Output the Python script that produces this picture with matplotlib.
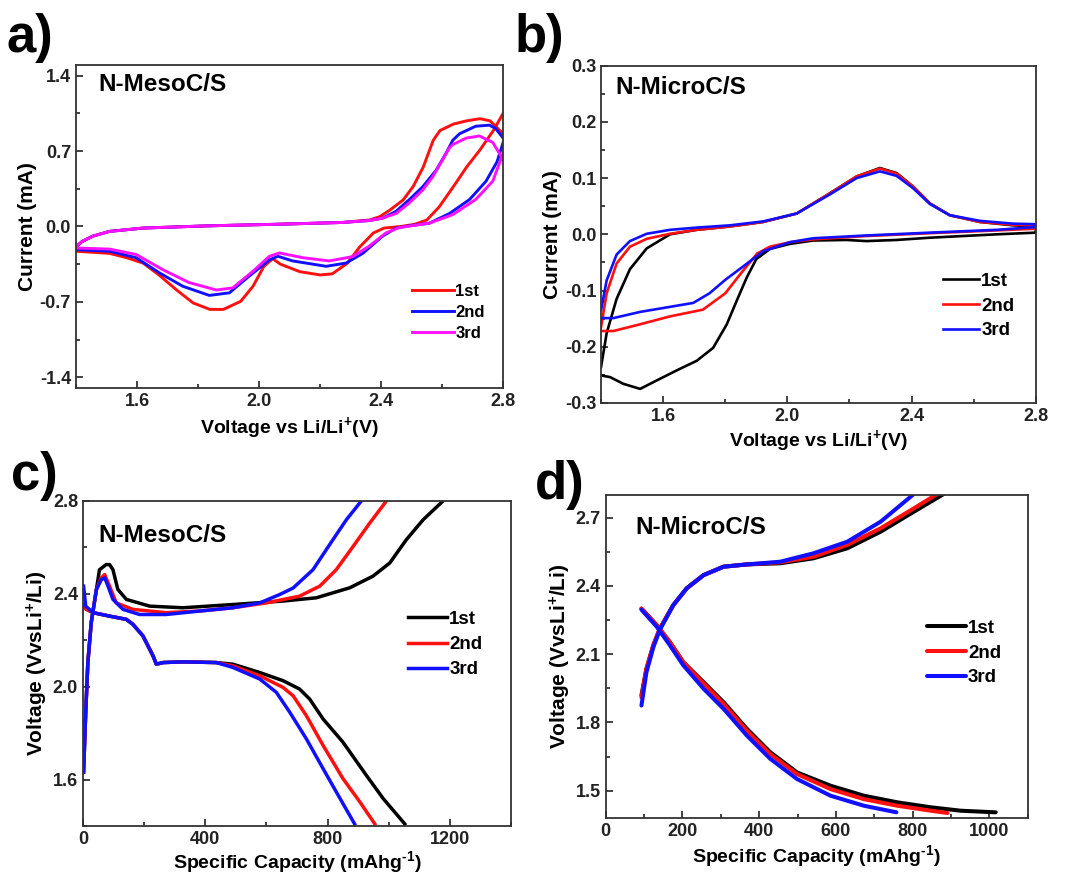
import numpy as np
import matplotlib
matplotlib.use("Agg")
import matplotlib.pyplot as plt
from matplotlib.ticker import MultipleLocator, FormatStrFormatter

plt.rcParams['font.family'] = ['Liberation Sans', 'DejaVu Sans']
plt.rcParams['font.weight'] = 'bold'
plt.rcParams['mathtext.fontset'] = 'custom'
plt.rcParams['mathtext.rm'] = 'Liberation Sans:bold'
plt.rcParams['mathtext.bf'] = 'Liberation Sans:bold'
plt.rcParams['mathtext.default'] = 'rm'
plt.rcParams['axes.unicode_minus'] = False

cycles = ['1st', '2nd', '3rd']

# --- a) CV of N-MesoC/S (upper loop 2.8 -> 1.4, then lower branch 1.4 -> 2.8)
meso_cv_v_1st = [2.80, 2.757, 2.724, 2.68, 2.637, 2.593, 2.571, 2.538, 2.505, 2.472, 2.428, 2.395,
                 2.362, 2.274, 2.056, 1.837, 1.62, 1.51, 1.455, 1.42, 1.40,
                 1.40, 1.51, 1.566, 1.62, 1.672, 1.73, 1.784, 1.839, 1.883, 1.94, 1.98, 2.016, 2.045,
                 2.07, 2.134, 2.20, 2.24, 2.29, 2.33, 2.375, 2.41, 2.466, 2.51, 2.55, 2.59, 2.637,
                 2.68, 2.724, 2.768, 2.80]
meso_cv_i_1st = [0.86, 0.98, 1.00, 0.98, 0.95, 0.89, 0.80, 0.55, 0.37, 0.245, 0.15, 0.09,
                 0.06, 0.037, 0.02, 0.006, -0.015, -0.046, -0.09, -0.14, -0.19,
                 -0.23, -0.25, -0.29, -0.34, -0.45, -0.59, -0.71, -0.77, -0.77, -0.695, -0.556, -0.37, -0.30,
                 -0.35, -0.42, -0.45, -0.44, -0.34, -0.19, -0.06, -0.015, 0.0, 0.02, 0.06, 0.18, 0.37,
                 0.55, 0.71, 0.89, 1.05]
meso_cv_v_2nd = [2.80, 2.775, 2.755, 2.71, 2.657, 2.635, 2.613, 2.58, 2.537, 2.493, 2.449, 2.405,
                 2.362, 2.274, 2.056, 1.837, 1.62, 1.51, 1.455, 1.42, 1.40,
                 1.40, 1.51, 1.597, 1.673, 1.75, 1.837, 1.903, 1.968, 2.034, 2.062, 2.11, 2.22, 2.285,
                 2.34, 2.405, 2.449, 2.493, 2.558, 2.624, 2.69, 2.744, 2.78, 2.80]
meso_cv_i_2nd = [0.82, 0.91, 0.94, 0.93, 0.86, 0.80, 0.68, 0.52, 0.37, 0.25, 0.14, 0.077,
                 0.055, 0.037, 0.02, 0.006, -0.015, -0.046, -0.09, -0.14, -0.19,
                 -0.215, -0.23, -0.29, -0.43, -0.555, -0.64, -0.616, -0.46, -0.31, -0.277, -0.32, -0.37, -0.34,
                 -0.25, -0.09, -0.015, 0.006, 0.03, 0.12, 0.25, 0.42, 0.60, 0.78]
meso_cv_v_3rd = [2.80, 2.766, 2.722, 2.679, 2.635, 2.624, 2.602, 2.569, 2.537, 2.493, 2.449, 2.405,
                 2.362, 2.274, 2.056, 1.837, 1.62, 1.51, 1.455, 1.42, 1.40,
                 1.40, 1.51, 1.597, 1.684, 1.77, 1.86, 1.914, 1.98, 2.034, 2.067, 2.143, 2.23, 2.307,
                 2.36, 2.416, 2.46, 2.558, 2.635, 2.71, 2.766, 2.80]
meso_cv_i_3rd = [0.62, 0.78, 0.84, 0.82, 0.76, 0.73, 0.62, 0.46, 0.34, 0.22, 0.12, 0.077,
                 0.055, 0.037, 0.02, 0.006, -0.015, -0.046, -0.09, -0.14, -0.185,
                 -0.20, -0.21, -0.26, -0.40, -0.52, -0.59, -0.57, -0.416, -0.277, -0.246, -0.29, -0.32, -0.28,
                 -0.185, -0.06, -0.01, 0.03, 0.11, 0.25, 0.42, 0.68]

# --- b) CV of N-MicroC/S (upper branch 1.4 -> 2.8, then lower branch 2.8 -> 1.4)
micro_cv_v_1st = [1.40, 1.418, 1.45, 1.493, 1.547, 1.622, 1.708, 1.815, 1.922, 2.03, 2.137, 2.223,
                  2.298, 2.352, 2.405, 2.459, 2.523, 2.62, 2.727, 2.80,
                  2.80, 2.674, 2.459, 2.352, 2.255, 2.19, 2.083, 2.008, 1.944, 1.90, 1.869, 1.837,
                  1.805, 1.761, 1.708, 1.644, 1.579, 1.526, 1.472, 1.429, 1.40]
micro_cv_i_1st = [-0.236, -0.176, -0.115, -0.062, -0.025, 0.0, 0.008, 0.014, 0.022, 0.037, 0.073, 0.103,
                  0.118, 0.109, 0.085, 0.055, 0.034, 0.022, 0.016, 0.014,
                  0.003, 0.0, -0.006, -0.010, -0.012, -0.010, -0.011, -0.017, -0.026, -0.044, -0.077, -0.118,
                  -0.16, -0.202, -0.225, -0.242, -0.26, -0.275, -0.266, -0.254, -0.251]
micro_cv_v_2nd = [1.40, 1.418, 1.45, 1.493, 1.547, 1.622, 1.708, 1.815, 1.922, 2.03, 2.137, 2.223,
                  2.298, 2.352, 2.405, 2.459, 2.523, 2.62, 2.727, 2.80,
                  2.80, 2.674, 2.459, 2.255, 2.083, 2.008, 1.944, 1.903, 1.851, 1.80, 1.728, 1.622,
                  1.526, 1.44, 1.40]
micro_cv_i_2nd = [-0.165, -0.105, -0.052, -0.022, -0.008, 0.001, 0.008, 0.014, 0.022, 0.037, 0.073, 0.103,
                  0.117, 0.108, 0.085, 0.055, 0.034, 0.022, 0.017, 0.016,
                  0.010, 0.007, 0.002, -0.003, -0.009, -0.014, -0.022, -0.034, -0.069, -0.105, -0.134, -0.146,
                  -0.16, -0.172, -0.172]
micro_cv_v_3rd = [1.40, 1.418, 1.45, 1.493, 1.547, 1.622, 1.708, 1.815, 1.922, 2.03, 2.137, 2.223,
                  2.298, 2.352, 2.405, 2.459, 2.523, 2.62, 2.727, 2.80,
                  2.80, 2.674, 2.459, 2.255, 2.083, 2.008, 1.922, 1.858, 1.80, 1.749, 1.697, 1.633,
                  1.526, 1.44, 1.40]
micro_cv_i_3rd = [-0.135, -0.082, -0.036, -0.012, 0.001, 0.008, 0.012, 0.016, 0.023, 0.037, 0.071, 0.100,
                  0.112, 0.104, 0.082, 0.054, 0.034, 0.024, 0.019, 0.018,
                  0.013, 0.008, 0.003, -0.002, -0.007, -0.014, -0.030, -0.057, -0.081, -0.105, -0.122, -0.128,
                  -0.138, -0.149, -0.149]

# --- c) charge/discharge of N-MesoC/S
meso_dis_cap_1st = [2, 9, 33, 87, 142, 163, 196, 229, 240, 262, 327, 436, 490, 578, 654, 708, 741, 785,
                    850, 926, 981, 1052]
meso_dis_v_1st = [2.35, 2.335, 2.319, 2.304, 2.29, 2.269, 2.219, 2.133, 2.097, 2.104, 2.107, 2.104, 2.097,
                  2.061, 2.026, 1.99, 1.947, 1.861, 1.761, 1.619, 1.519, 1.409]
meso_dis_cap_2nd = [2, 9, 33, 87, 142, 163, 196, 229, 240, 262, 327, 436, 490, 578, 654, 687, 730, 785,
                    850, 905, 954]
meso_dis_v_2nd = [2.35, 2.335, 2.319, 2.304, 2.29, 2.269, 2.219, 2.133, 2.097, 2.104, 2.107, 2.104, 2.09,
                  2.047, 1.997, 1.961, 1.876, 1.747, 1.604, 1.504, 1.409]
meso_dis_cap_3rd = [2, 9, 33, 87, 142, 163, 196, 229, 240, 262, 327, 436, 490, 578, 632, 676, 730, 785,
                    828, 888]
meso_dis_v_3rd = [2.433, 2.347, 2.319, 2.304, 2.29, 2.269, 2.219, 2.133, 2.097, 2.104, 2.107, 2.104, 2.083,
                  2.033, 1.976, 1.89, 1.776, 1.647, 1.547, 1.409]
meso_chg_cap_1st = [2, 9, 16, 27, 44, 54, 76, 87, 98, 114, 142, 218, 327, 490, 654, 763, 872, 948, 1003,
                    1057, 1112, 1177]
meso_chg_v_1st = [1.633, 1.89, 2.104, 2.276, 2.419, 2.504, 2.526, 2.526, 2.504, 2.419, 2.376, 2.347, 2.34,
                  2.354, 2.369, 2.383, 2.426, 2.476, 2.533, 2.633, 2.719, 2.80]
meso_chg_cap_2nd = [2, 9, 16, 27, 44, 60, 71, 87, 109, 163, 272, 382, 490, 600, 708, 774, 828, 883, 937, 992]
meso_chg_v_2nd = [1.633, 1.89, 2.104, 2.276, 2.419, 2.469, 2.483, 2.433, 2.361, 2.333, 2.319, 2.326, 2.34,
                  2.361, 2.39, 2.433, 2.504, 2.604, 2.704, 2.80]
meso_chg_cap_3rd = [2, 9, 16, 27, 44, 60, 71, 82, 98, 131, 185, 272, 382, 490, 578, 643, 687, 752, 817,
                    861, 910]
meso_chg_v_3rd = [1.633, 1.89, 2.104, 2.276, 2.419, 2.461, 2.469, 2.433, 2.376, 2.333, 2.311, 2.311, 2.326,
                  2.34, 2.361, 2.397, 2.425, 2.504, 2.633, 2.719, 2.80]

# --- d) charge/discharge of N-MicroC/S
micro_dis_cap_1st = [93, 133, 167, 202, 255, 307, 368, 429, 499, 586, 673, 760, 848, 926, 1017]
micro_dis_v_1st = [2.30, 2.227, 2.153, 2.065, 1.977, 1.889, 1.772, 1.669, 1.58, 1.522, 1.478, 1.449, 1.427,
                   1.412, 1.405]
micro_dis_cap_2nd = [93, 133, 167, 202, 255, 307, 368, 429, 499, 586, 673, 760, 848, 891]
micro_dis_v_2nd = [2.30, 2.227, 2.153, 2.065, 1.972, 1.882, 1.764, 1.661, 1.573, 1.507, 1.463, 1.434, 1.412,
                   1.402]
micro_dis_cap_3rd = [93, 133, 167, 202, 255, 307, 368, 429, 499, 586, 673, 758]
micro_dis_v_3rd = [2.295, 2.22, 2.139, 2.051, 1.948, 1.86, 1.742, 1.64, 1.551, 1.478, 1.434, 1.405]
micro_chg_cap_1st = [93, 106, 124, 141, 176, 211, 255, 307, 368, 455, 542, 630, 717, 804, 882]
micro_chg_v_1st = [1.919, 2.036, 2.139, 2.212, 2.315, 2.389, 2.447, 2.484, 2.494, 2.499, 2.521, 2.565, 2.638,
                   2.726, 2.804]
micro_chg_cap_2nd = [93, 106, 124, 141, 176, 211, 255, 307, 368, 455, 542, 630, 717, 804, 865]
micro_chg_v_2nd = [1.91, 2.036, 2.139, 2.212, 2.315, 2.389, 2.447, 2.484, 2.494, 2.503, 2.528, 2.58, 2.653,
                   2.741, 2.804]
micro_chg_cap_3rd = [93, 106, 124, 141, 176, 211, 255, 307, 368, 455, 542, 630, 717, 804]
micro_chg_v_3rd = [1.874, 2.02, 2.13, 2.207, 2.315, 2.389, 2.447, 2.484, 2.494, 2.506, 2.543, 2.594, 2.682,
                   2.804]

xlab_cv = r'Voltage vs Li/Li$^{+}$(V)'
xlab_cap = r'Specific Capacity (mAhg$^{\text{-1}}$)'
ylab_cap = r'Voltage (VvsLi$^{+}$/Li)'


def style_axes(ax):
    for s in ax.spines.values():
        s.set_color('#333333')
        s.set_linewidth(1.3)
    ax.tick_params(which='both', direction='in', top=False, right=False, labelsize=13,
                   width=1.2, colors='#222222')
    ax.tick_params(which='major', length=5)
    ax.tick_params(which='minor', length=3)
    for lab in ax.get_xticklabels() + ax.get_yticklabels():
        lab.set_fontweight('bold')


def add_legend(ax, handles, x, y, fs, spacing, hl):
    ax.legend(handles=handles, labels=cycles, loc='upper left', bbox_to_anchor=(x, y),
              frameon=False, fontsize=fs, handlelength=hl, handletextpad=0.1,
              labelspacing=spacing, borderpad=0, borderaxespad=0)


fig = plt.figure(figsize=(10.76, 8.76), dpi=100)

# a)
ax = fig.add_axes([0.0706, 0.557, 0.397, 0.369])
lines = []
for v, i, c in [(meso_cv_v_1st, meso_cv_i_1st, '#ff1010'),
                (meso_cv_v_2nd, meso_cv_i_2nd, '#1010ff'),
                (meso_cv_v_3rd, meso_cv_i_3rd, '#ff10ff')]:
    lines.append(ax.plot(v, i, color=c, lw=2.1)[0])
ax.set_xlim(1.4, 2.8)
ax.set_ylim(-1.5, 1.5)
ax.set_xticks([1.6, 2.0, 2.4, 2.8])
ax.xaxis.set_minor_locator(MultipleLocator(0.2))
ax.set_yticks([-1.4, -0.7, 0.0, 0.7, 1.4])
ax.yaxis.set_minor_locator(MultipleLocator(0.35))
ax.yaxis.set_major_formatter(FormatStrFormatter('%.1f'))
ax.set_xlabel(xlab_cv, fontsize=14, fontweight='bold', labelpad=4)
ax.set_ylabel('Current (mA)', fontsize=15, fontweight='bold', labelpad=2)
ax.text(0.052, 0.94, 'N-MesoC/S', transform=ax.transAxes, fontsize=17.5, fontweight='bold', va='center')
style_axes(ax)
add_legend(ax, lines, 0.787, 0.322, 12, 0.36, 2.5)

# b)
ax = fig.add_axes([0.5586, 0.540, 0.404, 0.385])
lines = []
for v, i, c in [(micro_cv_v_1st, micro_cv_i_1st, 'black'),
                (micro_cv_v_2nd, micro_cv_i_2nd, '#ff1010'),
                (micro_cv_v_3rd, micro_cv_i_3rd, '#1010ff')]:
    lines.append(ax.plot(v, i, color=c, lw=1.9)[0])
ax.set_xlim(1.4, 2.8)
ax.set_ylim(-0.3, 0.3)
ax.set_xticks([1.6, 2.0, 2.4, 2.8])
ax.xaxis.set_minor_locator(MultipleLocator(0.2))
ax.set_yticks(np.arange(-0.3, 0.31, 0.1))
ax.yaxis.set_minor_locator(MultipleLocator(0.05))
ax.yaxis.set_major_formatter(FormatStrFormatter('%.1f'))
ax.set_xlabel(xlab_cv, fontsize=14, fontweight='bold', labelpad=2)
ax.set_ylabel('Current (mA)', fontsize=15, fontweight='bold', labelpad=2)
ax.text(0.032, 0.935, 'N-MicroC/S', transform=ax.transAxes, fontsize=17.5, fontweight='bold', va='center')
style_axes(ax)
add_legend(ax, lines, 0.786, 0.386, 13.5, 0.4, 1.95)

# c)
ax = fig.add_axes([0.0771, 0.0571, 0.398, 0.371])
lines = []
for cd, vd, cc, vc, c in [(meso_dis_cap_1st, meso_dis_v_1st, meso_chg_cap_1st, meso_chg_v_1st, 'black'),
                          (meso_dis_cap_2nd, meso_dis_v_2nd, meso_chg_cap_2nd, meso_chg_v_2nd, '#ff1010'),
                          (meso_dis_cap_3rd, meso_dis_v_3rd, meso_chg_cap_3rd, meso_chg_v_3rd, '#1010ff')]:
    lines.append(ax.plot(cd, vd, color=c, lw=2.5)[0])
    ax.plot(cc, vc, color=c, lw=2.5)
ax.set_xlim(0, 1400)
ax.set_ylim(1.4, 2.8)
ax.set_xticks([0, 400, 800, 1200])
ax.xaxis.set_minor_locator(MultipleLocator(200))
ax.set_yticks([1.6, 2.0, 2.4, 2.8])
ax.yaxis.set_minor_locator(MultipleLocator(0.2))
ax.yaxis.set_major_formatter(FormatStrFormatter('%.1f'))
ax.set_xlabel(xlab_cap, fontsize=14, fontweight='bold', labelpad=1)
ax.set_ylabel(ylab_cap, fontsize=15, fontweight='bold', labelpad=2)
ax.text(0.035, 0.895, 'N-MesoC/S', transform=ax.transAxes, fontsize=17.5, fontweight='bold', va='center')
style_axes(ax)
add_legend(ax, lines, 0.759, 0.662, 13.5, 0.43, 2.1)

# d)
ax = fig.add_axes([0.563, 0.0662, 0.392, 0.369])
lines = []
for cd, vd, cc, vc, c in [(micro_dis_cap_1st, micro_dis_v_1st, micro_chg_cap_1st, micro_chg_v_1st, 'black'),
                          (micro_dis_cap_2nd, micro_dis_v_2nd, micro_chg_cap_2nd, micro_chg_v_2nd, '#ff1010'),
                          (micro_dis_cap_3rd, micro_dis_v_3rd, micro_chg_cap_3rd, micro_chg_v_3rd, '#1010ff')]:
    lines.append(ax.plot(cd, vd, color=c, lw=2.9, solid_capstyle='round')[0])
    ax.plot(cc, vc, color=c, lw=2.9, solid_capstyle='round')
ax.set_xlim(0, 1100)
ax.set_ylim(1.38, 2.8)
ax.set_xticks([0, 200, 400, 600, 800, 1000])
ax.xaxis.set_minor_locator(MultipleLocator(100))
ax.set_yticks([1.5, 1.8, 2.1, 2.4, 2.7])
ax.yaxis.set_minor_locator(MultipleLocator(0.15))
ax.yaxis.set_major_formatter(FormatStrFormatter('%.1f'))
ax.set_xlabel(xlab_cap, fontsize=14, fontweight='bold', labelpad=2)
ax.set_ylabel(ylab_cap, fontsize=15, fontweight='bold', labelpad=2)
ax.text(0.071, 0.90, 'N-MicroC/S', transform=ax.transAxes, fontsize=17.5, fontweight='bold', va='center')
style_axes(ax)
add_legend(ax, lines, 0.761, 0.613, 13.5, 0.4, 2.1)

# panel letters
for x, y, s in [(0.006, 0.985, 'a)'), (0.478, 0.985, 'b)'), (0.010, 0.485, 'c)'), (0.497, 0.475, 'd)')]:
    fig.text(x, y, s, fontsize=38, fontweight='bold', va='top', ha='left')

fig.savefig('out.png', dpi=100)
